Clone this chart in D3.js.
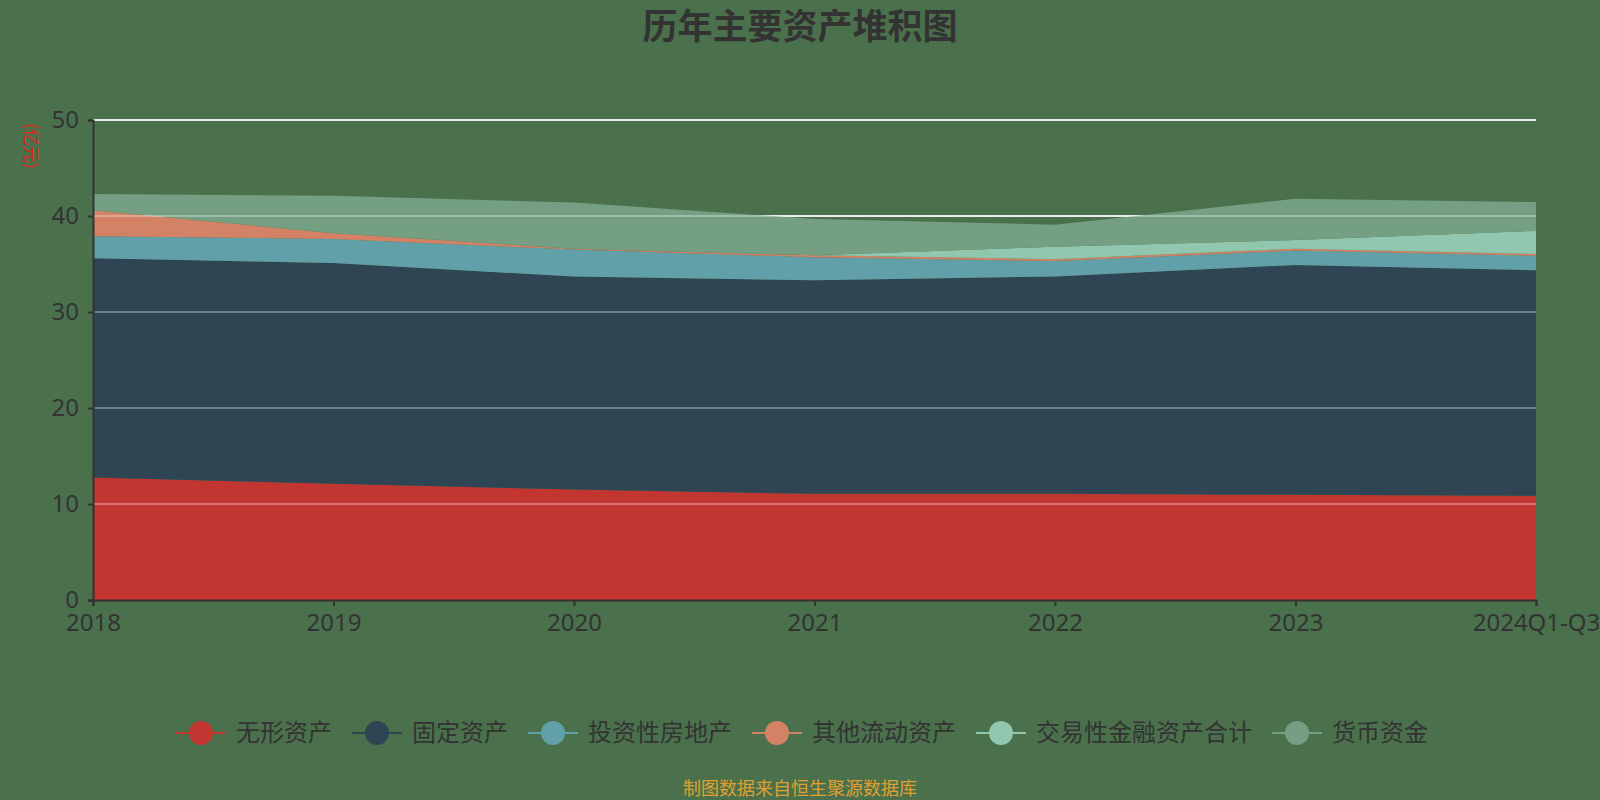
<!DOCTYPE html>
<html>
<head>
<meta charset="utf-8">
<script src="https://cdn.jsdelivr.net/npm/d3@7/dist/d3.min.js"></script>
<style>
  html, body { margin: 0; padding: 0; background: #4a714b; }
  svg { display: block; font-family: "Noto Sans CJK SC", "Noto Sans", sans-serif; }
</style>
</head>
<body>
<div id="chart"></div>
<script>
// years on the x axis
var years = ["2018", "2019", "2020", "2021", "2022", "2023", "2024Q1-Q3"];

// series values (亿元)
var wuxing   = [12.77, 12.1, 11.5, 11.06, 11.06, 10.96, 10.85];   // 无形资产
var guding   = [22.83, 23.0, 22.2, 22.24, 22.64, 23.94, 23.5];    // 固定资产
var touzi    = [2.3, 2.5, 2.8, 2.4, 1.6, 1.5, 1.5];               // 投资性房地产
var qita     = [2.7, 0.6, 0.1, 0.2, 0.2, 0.2, 0.2];               // 其他流动资产
var jiaoyi   = [0, 0, 0, 0, 1.3, 0.9, 2.4];                       // 交易性金融资产合计
var huobi    = [1.7, 3.9, 4.8, 3.8, 2.3, 4.3, 3.0];               // 货币资金

var seriesNames = ["无形资产", "固定资产", "投资性房地产", "其他流动资产", "交易性金融资产合计", "货币资金"];
var colors = ["#c23531", "#2f4554", "#61a0a8", "#d48265", "#91c7ae", "#749f83"];
var yTicks = [0, 10, 20, 30, 40, 50];

var width = 1600, height = 800;
var plotLeft = 93, plotRight = 1536, plotTop = 120, plotBottom = 600;

var rows = years.map(function(y, i) {
    return { year: y, s0: wuxing[i], s1: guding[i], s2: touzi[i], s3: qita[i], s4: jiaoyi[i], s5: huobi[i] };
});
var keys = ["s0", "s1", "s2", "s3", "s4", "s5"];

var svg = d3.select("#chart").append("svg")
    .attr("width", width)
    .attr("height", height);

var x = d3.scalePoint().domain(years).range([plotLeft, plotRight]);
var y = d3.scaleLinear().domain([0, 50]).range([plotBottom, plotTop]);

// grid under the areas
svg.append("g")
    .selectAll("line")
    .data(yTicks.slice(1))
    .enter().append("line")
    .attr("x1", plotLeft).attr("x2", plotRight)
    .attr("y1", d => y(d)).attr("y2", d => y(d))
    .attr("stroke", "#e6e6e6")
    .attr("stroke-width", 2);

var stack = d3.stack().keys(keys);
var layers = stack(rows);

var area = d3.area()
    .x(d => x(d.data.year))
    .y0(d => y(d[0]))
    .y1(d => y(d[1]));

svg.append("g")
    .selectAll("path")
    .data(layers)
    .enter().append("path")
    .attr("d", area)
    .attr("fill", (d, i) => colors[i]);

// faint grid over the areas
svg.append("g")
    .selectAll("line")
    .data(yTicks.slice(1))
    .enter().append("line")
    .attr("x1", plotLeft).attr("x2", plotRight)
    .attr("y1", d => y(d)).attr("y2", d => y(d))
    .attr("stroke", "#ffffff")
    .attr("stroke-opacity", 0.3)
    .attr("stroke-width", 2);

// y axis
var yAxis = svg.append("g")
    .attr("transform", "translate(" + plotLeft + ",0)")
    .call(d3.axisLeft(y).tickValues(yTicks).tickSize(5).tickPadding(9));
yAxis.select(".domain").attr("stroke", "#333").attr("stroke-width", 2);
yAxis.selectAll(".tick line").attr("stroke", "#333").attr("stroke-width", 2);
yAxis.selectAll(".tick text")
    .attr("fill", "#333")
    .style("font-size", "24px")
    .style("font-family", "'Noto Sans', sans-serif");

// x axis
var xAxis = svg.append("g")
    .attr("transform", "translate(0," + plotBottom + ")")
    .call(d3.axisBottom(x).tickSize(6).tickPadding(8));
xAxis.select(".domain").attr("stroke", "#333").attr("stroke-width", 2);
xAxis.selectAll(".tick line").attr("stroke", "#333").attr("stroke-width", 2);
xAxis.selectAll(".tick text")
    .attr("fill", "#333")
    .style("font-size", "24px")
    .style("font-family", "'Noto Sans', sans-serif");

// unit label
svg.append("text")
    .attr("transform", "translate(25,146) rotate(90)")
    .attr("text-anchor", "middle")
    .attr("fill", "#e8201a")
    .style("font-size", "17px")
    .text("(亿元)");

// title
svg.append("text")
    .attr("x", 800).attr("y", 39)
    .attr("text-anchor", "middle")
    .attr("fill", "#333")
    .style("font-size", "35px")
    .style("font-weight", "bold")
    .text("历年主要资产堆积图");

// legend
var legend = svg.append("g");
var items = legend.selectAll("g")
    .data(seriesNames)
    .enter().append("g");

items.append("line")
    .attr("x1", 0).attr("x2", 50)
    .attr("y1", 0).attr("y2", 0)
    .attr("stroke", (d, i) => colors[i])
    .attr("stroke-width", 2);
items.append("circle")
    .attr("cx", 25).attr("cy", 0).attr("r", 12)
    .attr("fill", (d, i) => colors[i]);
items.append("text")
    .attr("x", 60).attr("y", 0)
    .attr("dy", "0.35em")
    .attr("fill", "#333")
    .style("font-size", "24px")
    .text(d => d);

var gap = 20, pos = 0, offsets = [];
items.each(function(d, i) {
    var w = 60 + d3.select(this).select("text").node().getComputedTextLength();
    offsets.push(pos);
    pos += w + gap;
});
var total = pos - gap;
var startX = 802 - total / 2;
items.attr("transform", (d, i) => "translate(" + (startX + offsets[i]) + ",733)");

// source note
svg.append("text")
    .attr("x", 800).attr("y", 795)
    .attr("text-anchor", "middle")
    .attr("fill", "#e0a030")
    .style("font-size", "18px")
    .text("制图数据来自恒生聚源数据库");
</script>
</body>
</html>
